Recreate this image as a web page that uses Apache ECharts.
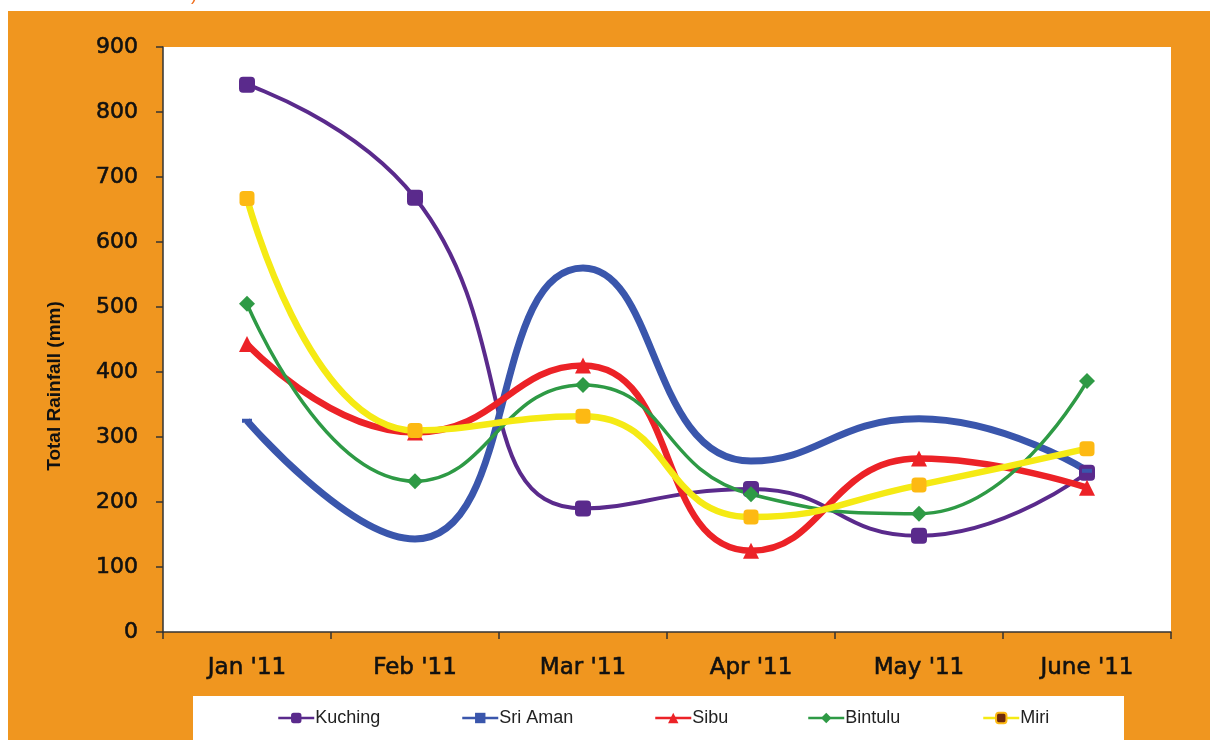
<!DOCTYPE html>
<html>
<head>
<meta charset="utf-8">
<script src="https://cdn.jsdelivr.net/npm/echarts@6/dist/echarts.min.js"></script>
<style>
html,body{margin:0;padding:0;background:#fff;}
#chart{width:1210px;height:740px;}
</style>
</head>
<body>
<div id="chart"></div>
<script>
var categories = ["Jan '11", "Feb '11", "Mar '11", "Apr '11", "May '11", "June '11"];
var kuching = [842, 668, 190, 220, 148, 245];
var sriAman = [325, 143, 560, 263, 328, 248];
var sibu = [443, 307, 410, 125, 267, 222];
var bintulu = [505, 232, 380, 212, 182, 386];
var miri = [667, 310, 332, 177, 226, 282];
var yTicks = [0, 900, 100];

var chart = echarts.init(document.getElementById('chart'));

function mkLegend(name, left, extra) {
  var d = {name: name};
  if (extra) d.itemStyle = extra;
  return {
    data: [d], left: left, top: 709, padding: 0,
    itemWidth: 36, itemHeight: 13,
    lineStyle: {width: 2.5},
    textStyle: {fontFamily: 'Liberation Sans', fontSize: 18, color: '#222', padding: [0, 0, 0, -4]},
    selectedMode: false
  };
}

var option = {
  backgroundColor: '#ffffff',
  animation: false,
  graphic: [
    {type: 'rect', left: 8, top: 11, shape: {width: 1202, height: 729}, style: {fill: '#F0961F'}, z: -10},
    {type: 'rect', left: 193, top: 696, shape: {width: 931, height: 44}, style: {fill: '#ffffff'}, z: -5},
    {type: 'text', left: 191, top: -14, style: {text: ')', fill: '#F07020', fontSize: 18, fontFamily: 'Liberation Sans'}},
    {type: 'text', rotation: Math.PI / 2, x: 55, y: 386,
     style: {text: 'Total Rainfall (mm)', fill: '#111', fontSize: 19, fontWeight: 'bold',
             fontFamily: 'Liberation Sans', align: 'center', verticalAlign: 'middle'}}
  ],
  grid: {left: 163, right: 39, top: 47, bottom: 108, show: true, backgroundColor: '#ffffff', borderWidth: 0},
  legend: [
    mkLegend('Kuching', 277),
    mkLegend('Sri Aman', 461),
    mkLegend('Sibu', 654),
    mkLegend('Bintulu', 807),
    mkLegend('Miri', 982, {color: '#6E2A0C', borderColor: '#FDB913', borderWidth: 2})
  ],
  xAxis: {
    type: 'category', data: categories, boundaryGap: true,
    axisLine: {lineStyle: {color: '#333', width: 1.5}},
    axisTick: {show: true, length: 7, alignWithLabel: false, lineStyle: {color: '#333', width: 1.5}},
    axisLabel: {fontFamily: 'DejaVu Sans', fontSize: 23, color: '#111', margin: 25,
                textBorderColor: '#111', textBorderWidth: 0.6},
    splitLine: {show: false}
  },
  yAxis: {
    type: 'value', min: yTicks[0], max: yTicks[1], interval: yTicks[2],
    axisLine: {show: true, lineStyle: {color: '#333', width: 1.5}},
    axisTick: {show: true, length: 7, lineStyle: {color: '#333', width: 1.5}},
    axisLabel: {fontFamily: 'DejaVu Sans', fontSize: 22, color: '#111', margin: 25,
                textBorderColor: '#111', textBorderWidth: 0.6},
    splitLine: {show: false}
  },
  series: [
    {name: 'Kuching', type: 'line', data: kuching, smooth: 0.5,
     symbol: 'roundRect', symbolSize: 16, showAllSymbol: true,
     lineStyle: {color: '#5A2A8C', width: 4}, itemStyle: {color: '#5A2A8C'}},
    {name: 'Sri Aman', type: 'line', data: sriAman, smooth: 0.5,
     symbol: 'rect', symbolSize: [10, 4],
     lineStyle: {color: '#3A56AC', width: 7}, itemStyle: {color: '#3A56AC'}},
    {name: 'Sibu', type: 'line', data: sibu, smooth: 0.5,
     symbol: 'triangle', symbolSize: 16,
     lineStyle: {color: '#EC2227', width: 6.5}, itemStyle: {color: '#EC2227'}},
    {name: 'Bintulu', type: 'line', data: bintulu, smooth: 0.5,
     symbol: 'diamond', symbolSize: 16,
     lineStyle: {color: '#2E9A45', width: 3.5}, itemStyle: {color: '#2E9A45'}},
    {name: 'Miri', type: 'line', data: miri, smooth: 0.5,
     symbol: 'roundRect', symbolSize: 15,
     lineStyle: {color: '#F5EA14', width: 6.5}, itemStyle: {color: '#FDB913'}}
  ]
};
chart.setOption(option);
</script>
</body>
</html>
